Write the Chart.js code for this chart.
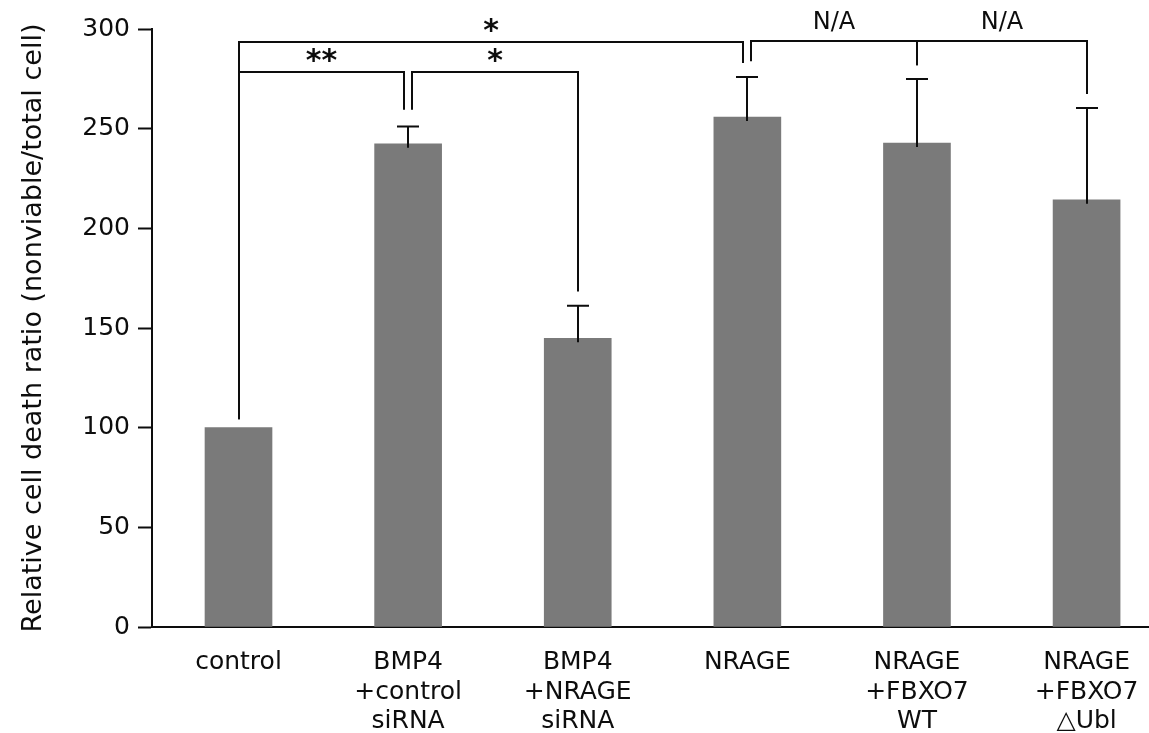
<!DOCTYPE html>
<html>
<head>
<meta charset="utf-8">
<script src="https://cdn.jsdelivr.net/npm/chart.js@4.4.0/dist/chart.umd.min.js"></script>
<style>
  html, body { margin: 0; padding: 0; background: #fff; }
  #chart { display: block; }
</style>
</head>
<body>
<canvas id="chart" width="1149" height="733"></canvas>
<script>
// groups on the x axis (each entry = lines of the label)
const groupLabels = [
  ["control"],
  ["BMP4", "+control", "siRNA"],
  ["BMP4", "+NRAGE", "siRNA"],
  ["NRAGE"],
  ["NRAGE", "+FBXO7", "WT"],
  ["NRAGE", "+FBXO7", "\u25B3Ubl"]
];
const deathRatio = [100, 242.4, 144.8, 255.8, 242.8, 214.3];
const errorUp = [0, 8.7, 16.4, 20.1, 32.1, 46.1];
const yTicks = [0, 50, 100, 150, 200, 250, 300];

// significance brackets (group index from -> to, level of the bar, where each leg stops, text)
const bracketFrom = [0, 0, 1, 3, 4];
const bracketTo = [3, 1, 2, 4, 5];
const bracketLevel = [293.5, 278.3, 278.3, 294.2, 294.2];
const legFromEnd = [104.2, 104.2, 259.5, 283.8, 281.8];
const legToEnd = [283, 259.5, 168.3, 281.8, 267.4];
const bracketText = ["*", "**", "*", "N/A", "N/A"];

// small pixel nudges so the double legs sit side by side
const legShiftFrom = [0, 0, 4, 4, 0];
const legShiftTo = [-4, -4, 0, 0, 0];

const ink = '#0d0d0d';

const annotate = {
  id: 'annotate',
  afterDatasetsDraw(chart) {
    const ctx = chart.ctx;
    const x = chart.scales.x, y = chart.scales.y;
    ctx.save();
    ctx.strokeStyle = ink;
    ctx.lineWidth = 2;
    ctx.lineCap = 'butt';

    // error bars (upper whisker only)
    deathRatio.forEach(function(v, i) {
      if (!errorUp[i]) return;
      const px = Math.round(x.getPixelForValue(i));
      const yb = y.getPixelForValue(v) + 4;
      const yt = y.getPixelForValue(v + errorUp[i]);
      ctx.beginPath();
      ctx.moveTo(px, yb);
      ctx.lineTo(px, yt);
      ctx.moveTo(px - 11, yt);
      ctx.lineTo(px + 11, yt);
      ctx.stroke();
    });

    // brackets
    ctx.fillStyle = ink;
    ctx.textAlign = 'center';
    ctx.textBaseline = 'alphabetic';
    bracketFrom.forEach(function(a, k) {
      const x1 = Math.round(x.getPixelForValue(a)) + legShiftFrom[k];
      const x2 = Math.round(x.getPixelForValue(bracketTo[k])) + legShiftTo[k];
      const yl = Math.round(y.getPixelForValue(bracketLevel[k]));
      ctx.beginPath();
      ctx.moveTo(x1, y.getPixelForValue(legFromEnd[k]));
      ctx.lineTo(x1, yl);
      ctx.lineTo(x2, yl);
      ctx.lineTo(x2, y.getPixelForValue(legToEnd[k]));
      ctx.stroke();

      const txt = bracketText[k];
      const mid = (x1 + x2) / 2;
      if (txt === 'N/A') {
        ctx.font = '24px "DejaVu Sans"';
        ctx.fillText(txt, mid, yl - 12);
      } else {
        ctx.font = 'bold 30px "DejaVu Sans"';
        ctx.fillText(txt, mid, yl - 2);
      }
    });
    ctx.restore();
  }
};

const chart = new Chart(document.getElementById('chart'), {
  type: 'bar',
  data: {
    datasets: [{
      data: deathRatio.map(function(v, i) { return { x: i, y: v }; }),
      backgroundColor: '#7a7a7a',
      borderWidth: 0,
      barThickness: 67
    }]
  },
  options: {
    responsive: false,
    animation: false,
    layout: { padding: { top: 29, right: 0, bottom: 0, left: 0 } },
    plugins: { legend: { display: false }, tooltip: { enabled: false } },
    scales: {
      x: {
        type: 'linear',
        offset: false,
        min: -0.51,
        max: 5.368,
        afterBuildTicks: function(s) { s.ticks = groupLabels.map(function(_, i) { return { value: i }; }); },
        afterFit: function(s) { s.height = 106; s.paddingLeft = 0; s.paddingRight = 0; },
        grid: { display: false, drawTicks: false, offset: false },
        border: { display: true, color: ink, width: 2 },
        ticks: {
          autoSkip: false,
          maxRotation: 0,
          minRotation: 0,
          padding: 21,
          color: ink,
          font: { family: '"DejaVu Sans"', size: 25, lineHeight: 1.18 },
          callback: function(v) { return groupLabels[v]; }
        }
      },
      y: {
        min: 0,
        max: 300,
        afterBuildTicks: function(s) { s.ticks = yTicks.map(function(v) { return { value: v }; }); },
        afterFit: function(s) { s.width = 152; },
        grid: { drawOnChartArea: false, drawTicks: true, tickLength: 14, tickColor: ink, tickWidth: 2 },
        border: { display: true, color: ink, width: 2 },
        ticks: {
          padding: 8,
          color: ink,
          font: { family: '"DejaVu Sans"', size: 25 }
        },
        title: {
          display: true,
          text: 'Relative cell death ratio (nonviable/total cell)',
          color: ink,
          font: { family: '"DejaVu Sans"', size: 27 },
          padding: { top: 18, bottom: 0 }
        }
      }
    }
  },
  plugins: [annotate]
});
</script>
</body>
</html>
